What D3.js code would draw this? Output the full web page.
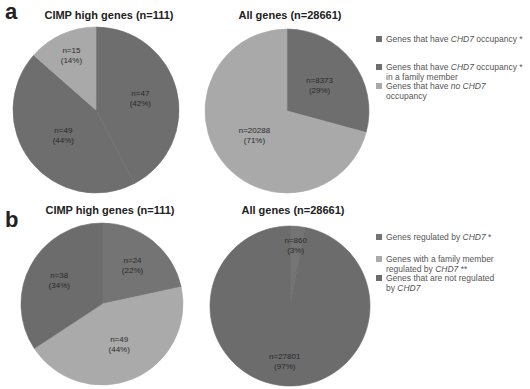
<!DOCTYPE html>
<html><head><meta charset="utf-8">
<script src="https://cdn.jsdelivr.net/npm/d3@7"></script>
<style>body{margin:0;background:#fff}svg{display:block}</style>
</head><body>
<svg id="c" width="530" height="389"></svg>
<script>
// ---- data ----
const titles = ["CIMP high genes (n=111)", "All genes (n=28661)"];
const panelLetters = ["a", "b"];
// panel a categories: occupancy, family occupancy, no occupancy
const aLeftValues = [47, 49, 15];
const aLeftLabels = ["n=47\n(42%)", "n=49\n(44%)", "n=15\n(14%)"];
const aRightValues = [8373, 0, 20288];
const aRightLabels = ["n=8373\n(29%)", "", "n=20288\n(71%)"];
// panel b categories: regulated, family regulated, not regulated
const bLeftValues = [24, 49, 38];
const bLeftLabels = ["n=24\n(22%)", "n=49\n(44%)", "n=38\n(34%)"];
const bRightValues = [860, 0, 27801];
const bRightLabels = ["n=860\n(3%)", "", "n=27801\n(97%)"];
const aColors = ["#6e6e6e", "#6e6e6e", "#a9a9a9"];
const bColors = ["#747474", "#aaaaaa", "#6c6c6c"];
const legendA = [
  [["Genes that have ",0],["CHD7",1],[" occupancy *",0]],
  [["Genes that have ",0],["CHD7",1],[" occupancy *",0]],
  [["in a family member",0]],
  [["Genes that have ",0],["no CHD7",1]],
  [["occupancy",0]]
];
const legendB = [
  [["Genes regulated by ",0],["CHD7",1],[" *",0]],
  [["Genes with a family member",0]],
  [["regulated by ",0],["CHD7",1],[" **",0]],
  [["Genes that are not regulated",0]],
  [["by ",0],["CHD7",1]]
];

const svg = d3.select("#c");
const font = "Liberation Sans, Arial, sans-serif";

function drawPie(cx, cy, r, values, labels, colors, labelR) {
  const pie = d3.pie().sort(null).value(d => d)(values);
  const arc = d3.arc().innerRadius(0).outerRadius(r);
  const g = svg.append("g").attr("transform", `translate(${cx},${cy})`);
  g.selectAll("path").data(pie.filter(d => d.value > 0)).join("path")
    .attr("d", arc).attr("fill", d => colors[d.index])
    .attr("stroke", d => colors[d.index]).attr("stroke-width", 0.6);
  pie.forEach((d, i) => {
    if (!labels[i]) return;
    const lr = r * labelR[i];
    const [x, y] = d3.arc().innerRadius(lr).outerRadius(lr).centroid(d);
    const t = g.append("text").attr("x", x).attr("y", y - 3)
      .attr("text-anchor", "middle").attr("font-family", font)
      .attr("font-size", 8).attr("fill", "#2a2a2a");
    labels[i].split("\n").forEach((s, k) => {
      t.append("tspan").attr("x", x).attr("dy", k ? 10 : 0).text(s);
    });
  });
}

function drawLegend(x, ys, items, swatchRows, colors) {
  items.forEach((line, i) => {
    const t = svg.append("text").attr("x", x + 10).attr("y", ys[i])
      .attr("font-family", font).attr("font-size", 8.5).attr("fill", "#555");
    line.forEach(([s, it]) => t.append("tspan").attr("font-style", it ? "italic" : "normal").text(s));
  });
  swatchRows.forEach((row, k) => {
    svg.append("rect").attr("x", x).attr("y", ys[row] - 6).attr("width", 6).attr("height", 6)
      .attr("fill", colors[k]);
  });
}

// panel letters
svg.append("text").attr("x", 5).attr("y", 19).attr("font-family", font)
  .attr("font-weight", "bold").attr("font-size", 22).attr("fill", "#222").text(panelLetters[0]);
svg.append("text").attr("x", 5).attr("y", 227).attr("font-family", font)
  .attr("font-weight", "bold").attr("font-size", 22).attr("fill", "#222").text(panelLetters[1]);

// titles
[[109, 19], [290, 19], [110, 214], [293, 214]].forEach(([x, y], i) => {
  svg.append("text").attr("x", x).attr("y", y).attr("text-anchor", "middle")
    .attr("font-family", font).attr("font-weight", "bold").attr("font-size", 11)
    .attr("fill", "#222").text(titles[i % 2]);
});

drawPie(96, 110, 83, aLeftValues, aLeftLabels, aColors, [0.55, 0.5, 0.72]);
drawPie(287, 111, 82, aRightValues, aRightLabels, aColors, [0.5, 0.5, 0.5]);
drawPie(102, 304, 81, bLeftValues, bLeftLabels, bColors, [0.6, 0.55, 0.6]);
drawPie(290, 306, 80, bRightValues, bRightLabels, bColors, [0.75, 0.5, 0.7]);

drawLegend(376, [42, 70, 80, 89, 99], legendA, [0, 1, 3], aColors);
drawLegend(376, [240, 262, 272, 281, 291], legendB, [0, 1, 3], bColors);
</script>
</body></html>
